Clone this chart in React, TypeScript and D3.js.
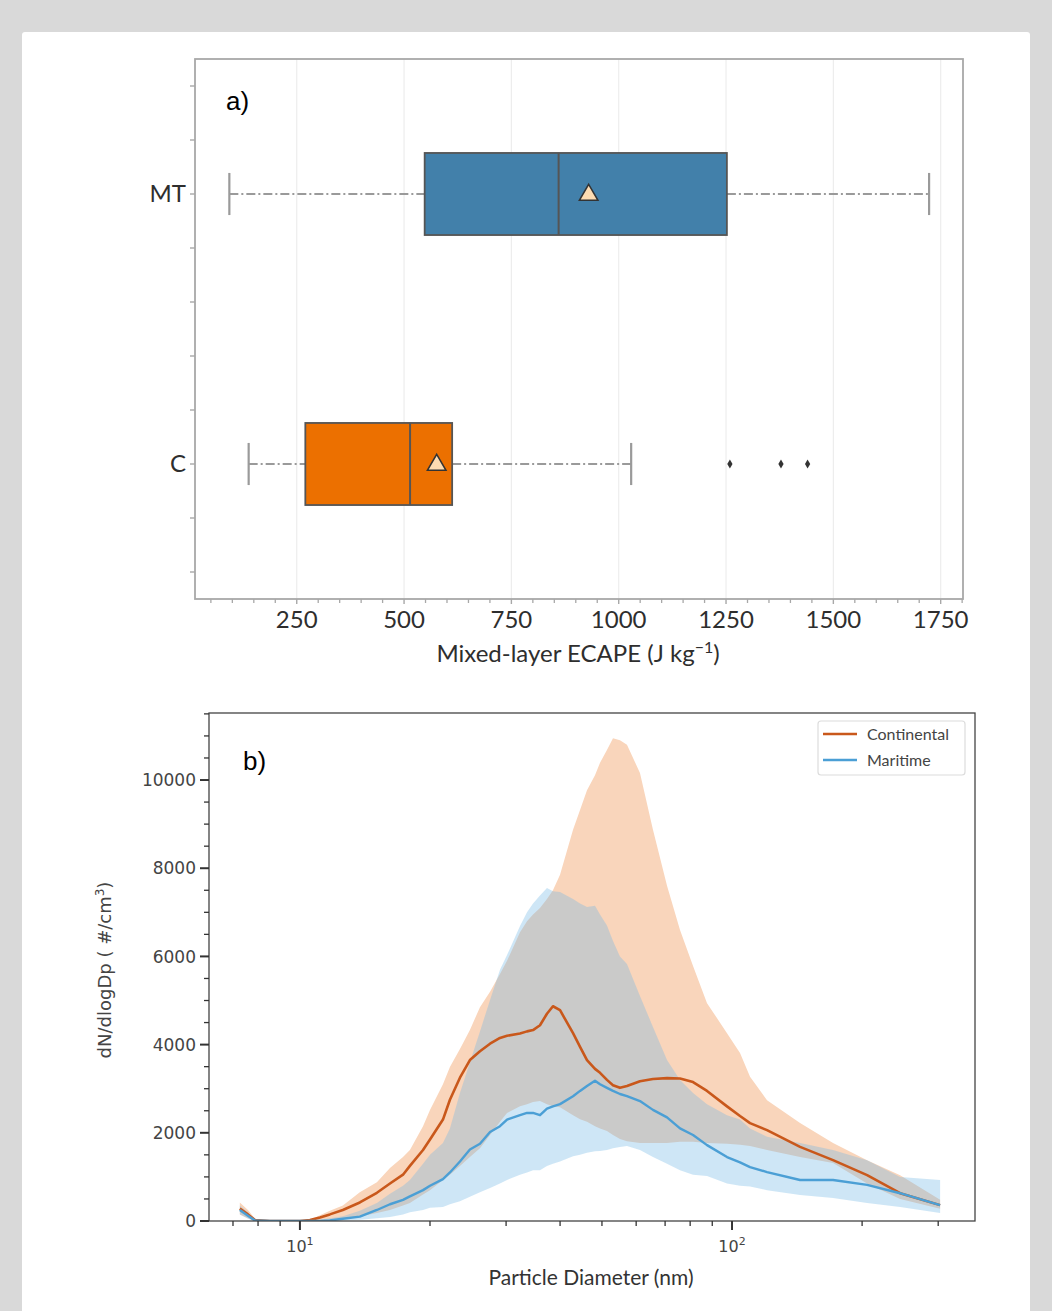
import React from 'react';
import * as d3 from 'd3';

// ---- panel a: box plot of mixed-layer ECAPE ----
const groups = ['MT', 'C'];
const whiskerLo = [93, 138];
const q1 = [548, 270];
const medians = [860, 514];
const means = [930, 576];
const q3 = [1252, 612];
const whiskerHi = [1723, 1029];
const boxColors = ['#4280aa', '#ec7000'];
const fliersC = [1259, 1378, 1440];
const ecapeTicks = [250, 500, 750, 1000, 1250, 1500, 1750];

// ---- panel b: particle size distributions ----
const diameters = [7.26, 7.58, 7.87, 8.52, 10.0, 10.55, 11.13, 11.73, 12.57, 13.76, 15.07, 16.16, 17.32, 17.97, 19.27, 20.0, 21.43, 22.24, 23.46, 24.74, 26.1, 27.54, 29.04, 30.15, 32.31, 33.54, 34.63, 35.94, 37.3, 38.51, 39.99, 42.86, 44.49, 46.17, 48.18, 49.49, 51.35, 53.03, 55.04, 57.13, 61.23, 65.62, 70.72, 75.79, 81.24, 87.53, 97.36, 104.35, 110.07, 120.5, 143.7, 171.3, 205.4, 244.9, 303.1];
const contMean = [280, 150, 20, 0, 0, 20, 80, 150, 250, 420, 640, 850, 1050, 1250, 1610, 1850, 2300, 2750, 3250, 3650, 3850, 4020, 4150, 4200, 4250, 4300, 4330, 4440, 4700, 4870, 4780, 4260, 3950, 3650, 3450, 3360, 3200, 3080, 3020, 3060, 3170, 3220, 3240, 3230, 3150, 2950, 2600, 2380, 2220, 2060, 1680, 1380, 1040, 630, 360];
const contLo = [150, 60, 0, 0, 0, 0, 0, 10, 50, 100, 180, 250, 350, 410, 600, 700, 930, 1050, 1250, 1450, 1650, 1950, 2250, 2450, 2600, 2650, 2700, 2720, 2650, 2600, 2580, 2400, 2310, 2250, 2150, 2100, 2040, 1950, 1860, 1810, 1770, 1770, 1770, 1800, 1800, 1770, 1750, 1730, 1700, 1610, 1450, 1315, 850, 500, 280];
const contHi = [420, 250, 50, 0, 0, 30, 130, 230, 350, 650, 880, 1200, 1450, 1610, 2150, 2520, 3100, 3490, 3900, 4330, 4850, 5200, 5600, 5900, 6550, 6800, 6950, 7100, 7300, 7500, 7850, 8870, 9320, 9770, 10110, 10390, 10680, 10950, 10900, 10800, 10160, 8870, 7600, 6600, 5780, 4940, 4260, 3810, 3270, 2740, 2220, 1770, 1380, 1040, 480];
const marMean = [250, 120, 10, 0, 0, 0, 0, 10, 50, 100, 250, 380, 480, 560, 700, 800, 950, 1100, 1350, 1620, 1750, 2020, 2150, 2300, 2400, 2450, 2450, 2400, 2550, 2600, 2650, 2830, 2950, 3060, 3180, 3100, 3020, 2950, 2880, 2830, 2720, 2520, 2350, 2100, 1950, 1720, 1450, 1330, 1220, 1110, 930, 930, 820, 630, 360];
const marLo = [150, 50, 0, 0, 0, 0, 0, 0, 10, 30, 60, 90, 150, 200, 250, 300, 320, 380, 450, 550, 650, 750, 850, 930, 1050, 1100, 1150, 1150, 1250, 1300, 1350, 1470, 1500, 1550, 1580, 1590, 1610, 1650, 1680, 1700, 1610, 1450, 1300, 1150, 1050, 1020, 850, 800, 780, 700, 590, 520, 410, 320, 180];
const marHi = [350, 200, 30, 0, 0, 5, 30, 60, 110, 230, 410, 620, 800, 930, 1300, 1500, 1770, 2100, 2900, 3600, 4300, 5010, 5700, 6030, 6690, 7000, 7200, 7380, 7550, 7480, 7460, 7300, 7200, 7120, 7150, 6950, 6700, 6350, 6000, 5830, 5100, 4400, 3650, 3200, 2900, 2650, 2400, 2300, 2100, 1910, 1770, 1610, 1380, 1000, 930];
const seriesNames = ['Continental', 'Maritime'];
const countTicks = [0, 2000, 4000, 6000, 8000, 10000];
const diamMajor = [10, 100];
const diamMinor = [7, 8, 9, 20, 30, 40, 50, 60, 70, 80, 90, 200, 300];

const SANS = 'Lato, "Open Sans", sans-serif';
const MPL = '"DejaVu Sans", sans-serif';

function PanelA() {
    const left = 195, right = 963, top = 59, bottom = 599;
    const x = d3.scaleLinear().domain([13, 1802]).range([left, right]);
    const y = d3.scaleLinear().domain([-0.5, 1.5]).range([top, bottom]);
    const halfBox = 0.152, halfCap = 0.078;
    const minorX = d3.range(50, 1801, 50).filter(v => v % 250 !== 0);
    const yTicks = d3.range(-0.4, 1.41, 0.2);
    const tri = d3.symbol(d3.symbolTriangle, 150)();
    const diamond = d3.symbol(d3.symbolDiamond, 24)();
    const axisGray = '#a8a8a8';

    return (
        <g>
            {ecapeTicks.map(t => (
                <line key={'g' + t} x1={x(t)} x2={x(t)} y1={top} y2={bottom} stroke="#ededed" strokeWidth={1.2}/>
            ))}
            {groups.map((g, i) => {
                const cy = y(i);
                return (
                    <g key={g}>
                        <line x1={x(whiskerLo[i])} x2={x(q1[i])} y1={cy} y2={cy} stroke="#9a9a9a" strokeWidth={2}
                              strokeDasharray="9,3,2,3"/>
                        <line x1={x(q3[i])} x2={x(whiskerHi[i])} y1={cy} y2={cy} stroke="#9a9a9a" strokeWidth={2}
                              strokeDasharray="9,3,2,3"/>
                        <line x1={x(whiskerLo[i])} x2={x(whiskerLo[i])} y1={y(i - halfCap)} y2={y(i + halfCap)}
                              stroke="#9a9a9a" strokeWidth={2.2}/>
                        <line x1={x(whiskerHi[i])} x2={x(whiskerHi[i])} y1={y(i - halfCap)} y2={y(i + halfCap)}
                              stroke="#9a9a9a" strokeWidth={2.2}/>
                        <rect x={x(q1[i])} y={y(i - halfBox)} width={x(q3[i]) - x(q1[i])}
                              height={y(i + halfBox) - y(i - halfBox)} fill={boxColors[i]} stroke="#555"
                              strokeWidth={1.8}/>
                        <line x1={x(medians[i])} x2={x(medians[i])} y1={y(i - halfBox)} y2={y(i + halfBox)}
                              stroke="#555" strokeWidth={2}/>
                        <path d={tri} transform={`translate(${x(means[i])},${cy + 1})`} fill="#fddcb2" stroke="#333"
                              strokeWidth={1.5}/>
                    </g>
                );
            })}
            {fliersC.map(v => (
                <path key={'f' + v} d={diamond} transform={`translate(${x(v)},${y(1)})`} fill="#333"/>
            ))}
            <rect x={left} y={top} width={right - left} height={bottom - top} fill="none" stroke={axisGray}
                  strokeWidth={1.8}/>
            {yTicks.map(t => (
                <line key={'yt' + t} x1={left - 5} x2={left} y1={y(t)} y2={y(t)} stroke={axisGray} strokeWidth={1.4}/>
            ))}
            {minorX.map(t => (
                <line key={'xm' + t} x1={x(t)} x2={x(t)} y1={bottom} y2={bottom + 4} stroke={axisGray} strokeWidth={1.3}/>
            ))}
            {ecapeTicks.map(t => (
                <g key={'xt' + t}>
                    <line x1={x(t)} x2={x(t)} y1={bottom} y2={bottom + 5} stroke={axisGray} strokeWidth={1.4}/>
                    <text x={x(t)} y={bottom + 29} textAnchor="middle" fontFamily={SANS} fontSize={24} fill="#2e2e2e">{t}</text>
                </g>
            ))}
            {groups.map((g, i) => (
                <text key={'lab' + g} x={left - 9} y={y(i)} dy="0.35em" textAnchor="end" fontFamily={SANS}
                      fontSize={24} fill="#2e2e2e">{g}</text>
            ))}
            <text x={(left + right) / 2 - 1} y={bottom + 63} textAnchor="middle" fontFamily={SANS} fontSize={24}
                  fill="#2e2e2e">Mixed-layer ECAPE (J kg<tspan dy="-9" fontSize={16}>−1</tspan><tspan dy="9">)</tspan></text>
            <text x={226} y={110} fontFamily='"Liberation Sans", Arial, sans-serif' fontSize={26} fill="#000">a)</text>
        </g>
    );
}

function PanelB() {
    const left = 209, right = 975, top = 713, bottom = 1221;
    const x = d3.scaleLog().domain([6.16, 365]).range([left, right]);
    const y = d3.scaleLinear().domain([0, 11520]).range([bottom, top]);
    const idx = d3.range(diameters.length);
    const band = (lo: number[], hi: number[]) => d3.area<number>()
        .x(i => x(diameters[i]))
        .y0(i => y(lo[i]))
        .y1(i => y(hi[i]))(idx) || '';
    const meanLine = (vals: number[]) => d3.line<number>()
        .x(i => x(diameters[i]))
        .y(i => y(vals[i]))(idx) || '';
    const minorY = d3.range(500, 11501, 500).filter(v => v % 2000 !== 0);
    const dark = '#333';
    const contColor = '#c9581b';
    const marColor = '#4b9fd5';

    return (
        <g>
            <defs>
                <clipPath id="plotB">
                    <rect x={left} y={top} width={right - left} height={bottom - top}/>
                </clipPath>
            </defs>
            <g clipPath="url(#plotB)">
                <path d={band(contLo, contHi)} fill="#f9d5bb"/>
                <path d={band(marLo, marHi)} fill="rgb(115,183,229)" fillOpacity={0.35}/>
                <path d={meanLine(contMean)} fill="none" stroke={contColor} strokeWidth={2.6} strokeLinejoin="round"/>
                <path d={meanLine(marMean)} fill="none" stroke={marColor} strokeWidth={2.4} strokeLinejoin="round"/>
            </g>
            <rect x={left} y={top} width={right - left} height={bottom - top} fill="none" stroke="#444"
                  strokeWidth={1.3}/>
            {minorY.map(t => (
                <line key={'ym' + t} x1={left - 5} x2={left} y1={y(t)} y2={y(t)} stroke={dark} strokeWidth={1.3}/>
            ))}
            {countTicks.map(t => (
                <g key={'yt' + t}>
                    <line x1={left - 9} x2={left} y1={y(t)} y2={y(t)} stroke={dark} strokeWidth={2}/>
                    <text x={left - 13} y={y(t)} dy="0.36em" textAnchor="end" fontFamily={MPL} fontSize={17}
                          fill="#444">{t}</text>
                </g>
            ))}
            {diamMinor.map(t => (
                <line key={'xm' + t} x1={x(t)} x2={x(t)} y1={bottom} y2={bottom + 5} stroke={dark} strokeWidth={1.3}/>
            ))}
            {diamMajor.map(t => (
                <g key={'xt' + t}>
                    <line x1={x(t)} x2={x(t)} y1={bottom} y2={bottom + 9} stroke={dark} strokeWidth={2}/>
                    <text x={x(t)} y={bottom + 31} textAnchor="middle" fontFamily={MPL} fontSize={16} fill="#444">
                        10<tspan dy="-7" fontSize={11}>{Math.round(Math.log10(t))}</tspan>
                    </text>
                </g>
            ))}
            <text x={(left + right) / 2 - 1} y={bottom + 64} textAnchor="middle" fontFamily={SANS} fontSize={21}
                  fill="#333">Particle Diameter (nm)</text>
            <text transform={`translate(${111},${(top + bottom) / 2 + 3}) rotate(-90)`} textAnchor="middle"
                  fontFamily={MPL} fontSize={18} fill="#444">dN/dlogDp ( #/cm<tspan dy="-7" fontSize={12}>3</tspan><tspan
                dy="7">)</tspan></text>
            <text x={243} y={770} fontFamily='"Liberation Sans", Arial, sans-serif' fontSize={26} fill="#000">b)</text>
            <g>
                <rect x={818} y={721} width={147} height={54} rx={3} fill="#fff" stroke="#dcdcdc" strokeWidth={1.2}/>
                {seriesNames.map((s, i) => (
                    <g key={s}>
                        <line x1={823} x2={857} y1={734 + i * 26} y2={734 + i * 26}
                              stroke={i === 0 ? contColor : marColor} strokeWidth={2.6}/>
                        <text x={867} y={734 + i * 26} dy="0.35em" fontFamily={SANS} fontSize={16}
                              fill="#444">{s}</text>
                    </g>
                ))}
            </g>
        </g>
    );
}

export default function App() {
    return (
        <svg width={1052} height={1311} style={{position: 'absolute', left: 0, top: 0}}>
            <rect x={0} y={0} width={1052} height={1311} fill="#d9d9d9"/>
            <rect x={22} y={32} width={1008} height={1300} rx={3} fill="#fff"/>
            <PanelA/>
            <PanelB/>
        </svg>
    );
}
